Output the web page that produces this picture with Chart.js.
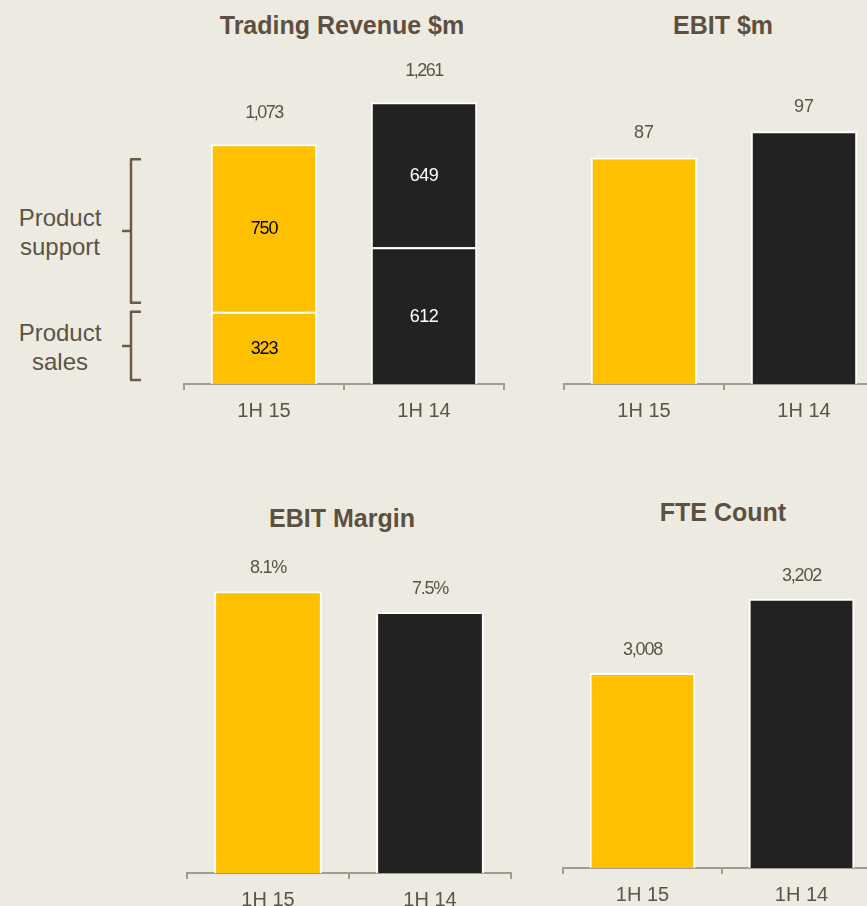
<!DOCTYPE html>
<html>
<head>
<meta charset="utf-8">
<script src="https://cdn.jsdelivr.net/npm/chart.js@4.4.1/dist/chart.umd.min.js"></script>
<style>
  html, body { margin: 0; padding: 0; background: #EDEBE1; overflow: hidden; }
  #page { position: relative; width: 867px; height: 906px; overflow: hidden; background: #EDEBE1;
          font-family: "Liberation Sans", Arial, sans-serif; }
  canvas { position: absolute; }
  .title { position: absolute; width: 300px; text-align: center; font-weight: bold; font-size: 25px;
           line-height: 30px; color: #5E5040; white-space: nowrap; }
  .side { position: absolute; width: 120px; text-align: center; font-size: 24px; line-height: 29px; color: #5B5346; }
</style>
</head>
<body>
<div id="page">
  <div class="title" style="left:192px; top:10px;">Trading Revenue $m</div>
  <div class="title" style="left:573px; top:10px;">EBIT $m</div>
  <div class="title" style="left:192px; top:503px;">EBIT Margin</div>
  <div class="title" style="left:573px; top:497px;">FTE Count</div>
  <div class="side" style="left:0px; top:203px;">Product<br>support</div>
  <div class="side" style="left:0px; top:318px;">Product<br>sales</div>

  <canvas id="c-revenue" width="540" height="440" style="left:0; top:0;"></canvas>
  <canvas id="c-ebit" width="360" height="440" style="left:540px; top:0;"></canvas>
  <canvas id="c-margin" width="390" height="460" style="left:150px; top:480px;"></canvas>
  <canvas id="c-fte" width="360" height="460" style="left:540px; top:480px;"></canvas>
</div>

<script>
// ── Data ─────────────────────────────────────────────────────────────────────
const PERIODS = ['1H 15', '1H 14'];

const REVENUE_SALES   = [323, 612];   // Product sales, $m
const REVENUE_SUPPORT = [750, 649];   // Product support, $m
const EBIT            = [87, 97];     // $m
const EBIT_MARGIN     = [8.1, 7.5];   // %
const FTE_COUNT       = [3008, 3202];

const YELLOW = '#FFC000';
const BLACK  = '#222222';
const BAR_COLORS = [YELLOW, BLACK];
const TEXT  = '#5B5346';
const AXIS  = '#A19B90';
const FONT  = '"Liberation Sans", Arial, sans-serif';

// ── Plugins ──────────────────────────────────────────────────────────────────
// Value labels above each bar (or above each stack), plus optional labels inside stacked segments
const valueLabels = {
  id: 'valueLabels',
  afterDatasetsDraw(chart, args, opts) {
    const { ctx } = chart;
    ctx.save();
    ctx.textAlign = 'center';
    ctx.textBaseline = 'middle';
    ctx.font = `18px ${FONT}`;
    ctx.letterSpacing = opts.spacing || '0px';
    const n = chart.data.datasets.length;

    // inner segment labels
    if (opts.inside) {
      chart.data.datasets.forEach((ds, di) => {
        chart.getDatasetMeta(di).data.forEach((bar, i) => {
          ctx.fillStyle = opts.insideColors[i];
          ctx.letterSpacing = opts.insideSpacing[i];
          ctx.fillText(opts.format(ds.data[i]), bar.x, (bar.y + bar.base) / 2 + 1);
        });
      });
    }

    // totals on top
    ctx.fillStyle = TEXT;
    ctx.letterSpacing = opts.spacing || '0px';
    const top = chart.getDatasetMeta(n - 1).data;
    top.forEach((bar, i) => {
      const total = chart.data.datasets.reduce((s, ds) => s + ds.data[i], 0);
      ctx.fillText(opts.format(total), bar.x, bar.y - opts.offset);
    });
    ctx.restore();
  },
};

// Curly-ish brackets to the left of the revenue chart
const brackets = {
  id: 'brackets',
  afterDraw(chart, args, opts) {
    if (!opts.groups) return;
    const { ctx } = chart;
    const y = chart.scales.y;
    ctx.save();
    ctx.strokeStyle = '#6B5B45';
    ctx.lineWidth = 2.5;
    ctx.lineJoin = 'round';
    opts.groups.forEach(g => {
      const t = y.getPixelForValue(g.from) + g.insetTop;
      const b = y.getPixelForValue(g.to) - g.insetBottom;
      const m = (t + b) / 2;
      ctx.beginPath();
      ctx.moveTo(141, t);
      ctx.lineTo(131, t);
      ctx.lineTo(131, b);
      ctx.lineTo(141, b);
      ctx.moveTo(122, m);
      ctx.lineTo(131, m);
      ctx.stroke();
    });
    ctx.restore();
  },
};

// ── Shared options ───────────────────────────────────────────────────────────
function xAxis() {
  return {
    stacked: true,
    grid: { drawOnChartArea: false, drawTicks: true, tickLength: 6, color: AXIS, lineWidth: 2, offset: true },
    border: { display: true, color: AXIS, width: 2 },
    ticks: { color: TEXT, font: { family: FONT, size: 20, lineHeight: 1.2 }, padding: 9, maxRotation: 0 },
    afterFit: s => { s.height = 40; },
  };
}

function barChart(id, datasets, yMin, yMax, padding, labelOpts, extra = {}) {
  return new Chart(document.getElementById(id), {
    type: 'bar',
    data: { labels: PERIODS, datasets },
    options: {
      responsive: false,
      animation: false,
      layout: { padding },
      datasets: { bar: { categoryPercentage: 1, barPercentage: 0.665, borderColor: '#FFFFFF', borderWidth: 2 } },
      plugins: {
        legend: { display: false },
        tooltip: { enabled: false },
        valueLabels: labelOpts,
        brackets: extra,
      },
      scales: {
        x: xAxis(),
        y: { display: false, stacked: true, min: yMin, max: yMax },
      },
    },
    plugins: [valueLabels, brackets],
  });
}

const fmtNum = v => v.toLocaleString('en-US');
const fmtPct = v => v.toFixed(1) + '%';

// ── Charts ───────────────────────────────────────────────────────────────────
barChart('c-revenue', [
  { label: 'Product sales',   data: REVENUE_SALES,   backgroundColor: BAR_COLORS },
  { label: 'Product support', data: REVENUE_SUPPORT, backgroundColor: BAR_COLORS },
], 0, 1450, { left: 184, right: 36, top: 60, bottom: 16 },
{
  offset: 31, spacing: '-1.5px', format: fmtNum, inside: true,
  insideColors: ['#000000', '#FFFFFF'], insideSpacing: ['-1.2px', '-0.5px'],
},
{
  groups: [
    { from: 1073, to: 323, insetTop: 15, insetBottom: 9 },
    { from: 323,  to: 0,   insetTop: 0,  insetBottom: 4 },
  ],
});

barChart('c-ebit', [
  { label: 'EBIT', data: EBIT, backgroundColor: BAR_COLORS },
], 0, 124.4, { left: 24, right: 16, top: 60, bottom: 16 },
{ offset: 24, spacing: '0px', format: fmtNum });

barChart('c-margin', [
  { label: 'EBIT Margin', data: EBIT_MARGIN, backgroundColor: BAR_COLORS },
], 0, 9.57, { left: 37, right: 29, top: 60, bottom: 27 },
{ offset: 23, spacing: '-1.2px', format: fmtPct });

barChart('c-fte', [
  { label: 'FTE', data: FTE_COUNT, backgroundColor: BAR_COLORS },
], 2500, 3355, { left: 23, right: 19, top: 60, bottom: 32 },
{ offset: 23, spacing: '-1.2px', format: fmtNum });
</script>
</body>
</html>
